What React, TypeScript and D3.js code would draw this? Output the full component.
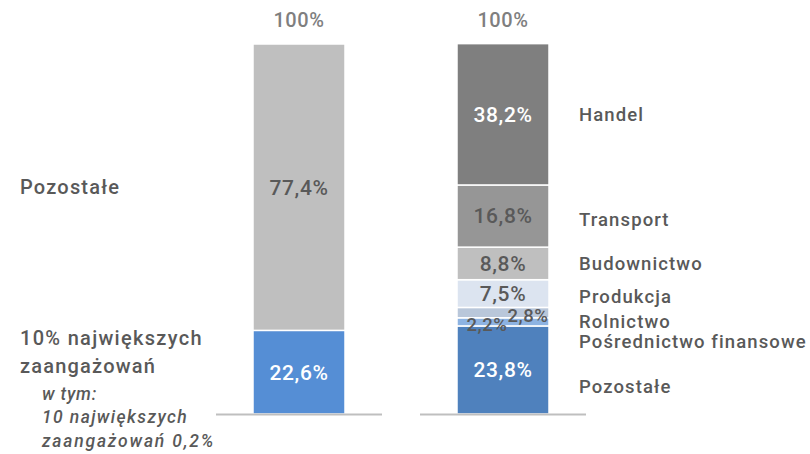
import React from "react";
import * as d3 from "d3";

const groups = ["total", "top10"];
const leftValues = [22.6, 77.4];
const leftLabels = ["22,6%", "77,4%"];
const rightCategories = ["Pozostałe", "Pośrednictwo finansowe", "Rolnictwo", "Produkcja", "Budownictwo", "Transport", "Handel"];
const rightValues = [23.8, 2.2, 2.8, 7.5, 8.8, 16.8, 38.2];
const rightLabels = ["23,8%", "2,2%", "2,8%", "7,5%", "8,8%", "16,8%", "38,2%"];
const totalLabel = "100%";

const leftColors = ["#558ed5", "#bfbfbf"];
const leftTextColors = ["#ffffff", "#595959"];
const rightColors = ["#4f81bd", "#8db3e2", "#b9c7da", "#dce4f0", "#bfbfbf", "#969696", "#7f7f7f"];
const rightTextColors = ["#ffffff", "#595959", "#595959", "#595959", "#595959", "#595959", "#ffffff"];
// label placement tweaks (style only)
const rightValDx = [0, -16, 25, 0, 0, 0, 0];
const rightValDy = [0, 3, 3, 0, 0, 0, 0];
const rightNameDy = [17, 20, 9, 3, 0, 3, 0];

const FONT = "Roboto, 'DejaVu Sans', sans-serif";
const TXT = "#595959";

function stack(values: number[]) {
  let acc = 0;
  return values.map((v) => {
    const s = { y0: acc, y1: acc + v };
    acc += v;
    return s;
  });
}

export default function App() {
  const W = 810, H = 454;
  const y = d3.scaleLinear().domain([0, 100]).range([414, 44]);
  const x = d3.scalePoint<string>().domain(groups).range([299, 503]);
  const bw = 92;
  const lineHalf = 83;
  const ls = stack(leftValues);
  const rs = stack(rightValues);
  const xl = x("total")!;
  const xr = x("top10")!;
  return (
    <svg width={W} height={H} style={{ position: "absolute", left: 0, top: 0 }} fontFamily={FONT} fontWeight={500}>
      {/* left bar */}
      {ls.map((s, i) => (
        <rect key={"l" + i} x={xl - bw / 2} y={y(s.y1)} width={bw} height={y(s.y0) - y(s.y1)} fill={leftColors[i]} stroke="#fff" strokeWidth={1.5} />
      ))}
      {ls.map((s, i) => (
        <text key={"lt" + i} x={xl} y={(y(s.y0) + y(s.y1)) / 2} dy="0.35em" textAnchor="middle" fontSize={21} fill={leftTextColors[i]} letterSpacing={0.6}>
          {leftLabels[i]}
        </text>
      ))}
      {/* right bar */}
      {rs.map((s, i) => (
        <rect key={"r" + i} x={xr - bw / 2} y={y(s.y1)} width={bw} height={y(s.y0) - y(s.y1)} fill={rightColors[i]} stroke="#fff" strokeWidth={1.5} />
      ))}
      {rs.map((s, i) => (
        <text key={"rt" + i} x={xr + rightValDx[i]} y={(y(s.y0) + y(s.y1)) / 2 + rightValDy[i]} dy="0.35em" textAnchor="middle" fontSize={i === 1 || i === 2 ? 18.5 : 21} fill={rightTextColors[i]} letterSpacing={0.6}>
          {rightLabels[i]}
        </text>
      ))}
      {rs.map((s, i) => (
        <text key={"rn" + i} x={579} y={(y(s.y0) + y(s.y1)) / 2 + rightNameDy[i]} dy="0.35em" fontSize={18.5} fill={TXT} letterSpacing={1.1}>
          {rightCategories[i]}
        </text>
      ))}
      {/* baselines */}
      <line x1={xl - lineHalf} x2={xl + lineHalf} y1={414.5} y2={414.5} stroke="#bfbfbf" strokeWidth={2} />
      <line x1={xr - lineHalf} x2={xr + lineHalf} y1={414.5} y2={414.5} stroke="#bfbfbf" strokeWidth={2} />
      {/* totals */}
      <text x={xl} y={y(100) - 24} dy="0.35em" textAnchor="middle" fontSize={20} fill="#7f7f7f" letterSpacing={0.6}>{totalLabel}</text>
      <text x={xr} y={y(100) - 24} dy="0.35em" textAnchor="middle" fontSize={20} fill="#7f7f7f" letterSpacing={0.6}>{totalLabel}</text>
      {/* left descriptions */}
      <text x={20} y={(y(ls[1].y0) + y(ls[1].y1)) / 2} dy="0.35em" fontSize={20} fill={TXT} letterSpacing={1.2}>Pozostałe</text>
      <text x={20} y={338} dy="0.35em" fontSize={20} fill={TXT} letterSpacing={1.3}>10% największych</text>
      <text x={20} y={366} dy="0.35em" fontSize={20} fill={TXT} letterSpacing={1.2}>zaangażowań</text>
      <text x={42} y={394} dy="0.35em" fontSize={17.5} fill={TXT} fontStyle="italic" letterSpacing={0.8}>w tym:</text>
      <text x={42} y={417} dy="0.35em" fontSize={17.5} fill={TXT} fontStyle="italic" letterSpacing={1.4}>10 największych</text>
      <text x={42} y={441} dy="0.35em" fontSize={17.5} fill={TXT} fontStyle="italic" letterSpacing={1.8}>zaangażowań 0,2%</text>
    </svg>
  );
}
